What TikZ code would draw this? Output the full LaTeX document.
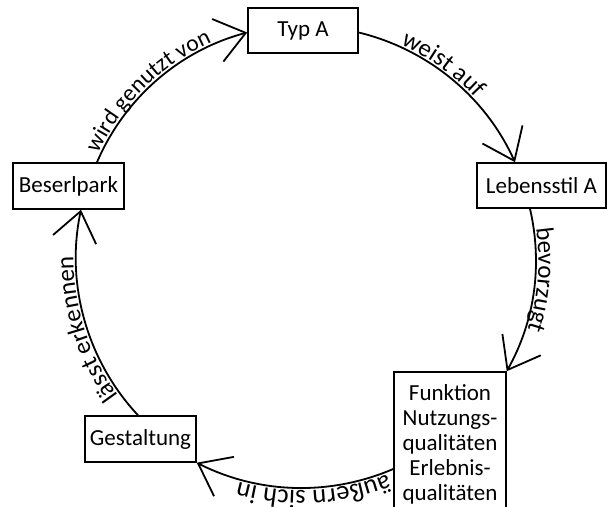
\documentclass[tikz,border=0pt]{standalone}
\usepackage{fontspec}
\setmainfont{Carlito}
\usetikzlibrary{arrows.meta,decorations.text}
\newcommand\boxtextfont{\fontsize{23}{25}\selectfont}
\newcommand\arctextfont{\fontsize{25}{30}\selectfont}
\newcommand\arcsmallfont{\fontsize{23.5}{28}\selectfont}
\newcommand\arcwidefont{\fontsize{26.5}{30}\selectfont}
\begin{document}
\begin{tikzpicture}[x=1pt,y=1pt,
  box/.style={draw=black, line width=1.5pt, fill=white, inner sep=0pt,
              font=\boxtextfont, align=center},
  link/.style={line width=1.8pt, draw=black,
               -{Straight Barb[length=29pt,width=44pt]}},
  lbl/.style 2 args={postaction={decorate, decoration={text along path,
      raise=2.5pt, text align={left, left indent=#1},
      text={#2}}}},
]
\clip (0,0) rectangle (607,506);

% concepts
\node[box, minimum width=110pt, minimum height=45pt] (typ) at (303,475.5) {Typ A};
\node[box, minimum width=129pt, minimum height=45pt] (ls)  at (541.5,320.5) {Lebensstil A};
\node[box, minimum width=111pt, minimum height=46pt] (bp)  at (68.5,320) {Beserlpark};
\node[box, minimum width=111pt, minimum height=46pt] (ge)  at (140.5,67) {Gestaltung};
\node[box, minimum width=112pt, minimum height=144pt] (fn) at (450,62)
  {Funktion\\Nutzungs-\\qualitäten\\Erlebnis-\\qualitäten};

% relations around the circle
\draw[link, lbl={8pt}{|\arcsmallfont|wird genutzt von}]
  ([xshift=28.5pt]bp.north) to[bend left=26, looseness=0.9] ([yshift=-2pt]typ.west);
\draw[link, lbl={43pt}{|\arctextfont|weist auf}]
  ([yshift=-2pt]typ.east) to[bend left=26, looseness=0.9] ([xshift=-26.5pt]ls.north);
\draw[link, lbl={20pt}{|\arctextfont|bevorzugt}]
  ([xshift=-11.5pt]ls.south) to[bend left=21, looseness=0.9] (fn.north east);
\draw[link, lbl={7pt}{|\arcwidefont|äußern sich in}]
  ([yshift=-25pt]fn.west) to[bend left=25, looseness=0.9] (ge.south east);
\draw[link, lbl={27pt}{|\arctextfont|lässt erkennen}]
  ([xshift=-2.5pt]ge.north) to[bend left=27.6, looseness=0.9] ([xshift=12.5pt]bp.south);
\end{tikzpicture}
\end{document}
